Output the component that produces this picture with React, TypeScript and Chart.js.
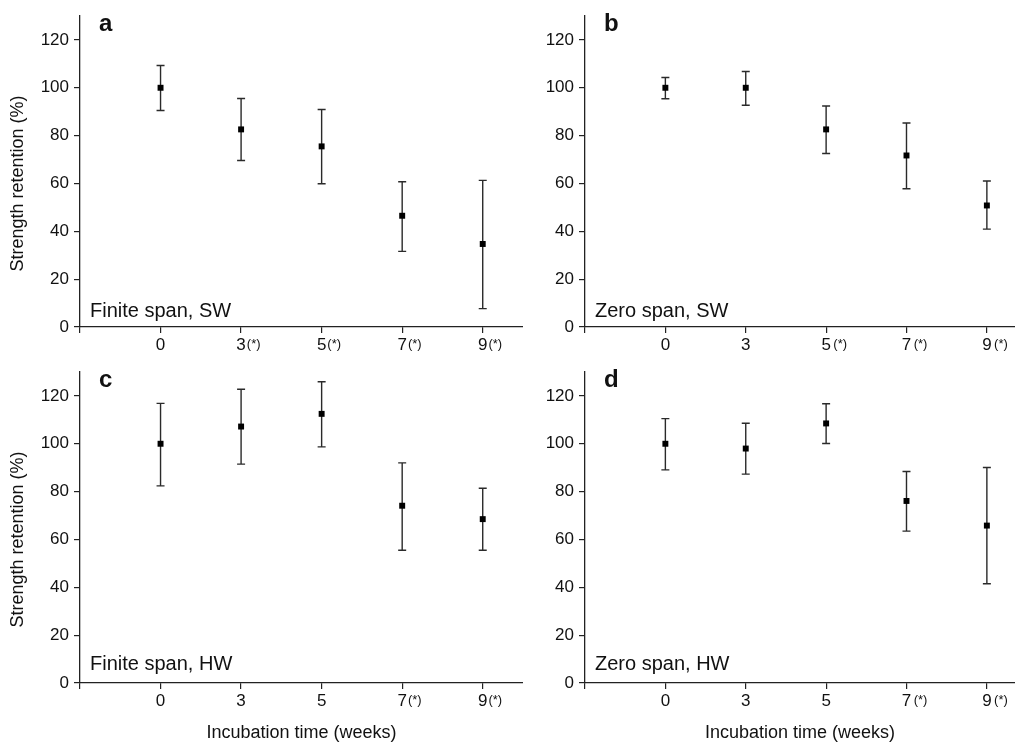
import React, { useEffect, useRef } from 'react';
import { Chart, registerables } from 'chart.js';

Chart.register(...registerables);

const FONT = '"Liberation Sans", Arial, Helvetica, sans-serif';

// ---- data ----
const WEEK_LABELS = ['0', '3', '5', '7', '9'];
const X_TICKS = [-1, 0, 1, 2, 3, 4];
const Y_TICKS = [0, 20, 40, 60, 80, 100, 120];
const X_TITLE = 'Incubation time (weeks)';
const Y_TITLE = 'Strength retention (%)';

const A_MEAN = [100, 82.6, 75.5, 46.5, 34.7];
const A_LOW = [90.5, 69.6, 59.9, 31.6, 7.7];
const A_HIGH = [109.3, 95.5, 90.9, 60.7, 61.3];
const A_SIG = [false, true, true, true, true];

const B_MEAN = [100, 100, 82.6, 71.7, 50.8];
const B_LOW = [95.4, 92.7, 72.5, 57.8, 40.9];
const B_HIGH = [104.3, 106.8, 92.4, 85.3, 61.0];
const B_SIG = [false, false, true, true, true];

const C_MEAN = [100, 107.2, 112.5, 74.1, 68.5];
const C_LOW = [82.4, 91.5, 98.7, 55.5, 55.5];
const C_HIGH = [116.9, 122.8, 125.9, 92.0, 81.4];
const C_SIG = [false, false, false, true, true];

const D_MEAN = [100, 98, 108.5, 76.1, 65.8];
const D_LOW = [89.1, 87.3, 100.1, 63.5, 41.5];
const D_HIGH = [110.5, 108.6, 116.7, 88.4, 90.1];
const D_SIG = [false, false, false, true, true];

type Panel = {
  letter: string;
  note: string;
  mean: number[];
  low: number[];
  high: number[];
  sig: boolean[];
  left: number;
  top: number;
  width: number;
  height: number;
  xMax: number;
  yTitle: boolean;
  xTitle: boolean;
  noteOffset: number;
  sigGap: number;
};

const PANELS: Panel[] = [
  { letter: 'a', note: 'Finite span, SW', mean: A_MEAN, low: A_LOW, high: A_HIGH, sig: A_SIG,
    left: 0, top: 0, width: 523, height: 372, xMax: 4.5, yTitle: true, xTitle: false, noteOffset: 10, sigGap: 1 },
  { letter: 'b', note: 'Zero span, SW', mean: B_MEAN, low: B_LOW, high: B_HIGH, sig: B_SIG,
    left: 505, top: 0, width: 510, height: 372, xMax: 4.35, yTitle: false, xTitle: false, noteOffset: 10, sigGap: 2.5 },
  { letter: 'c', note: 'Finite span, HW', mean: C_MEAN, low: C_LOW, high: C_HIGH, sig: C_SIG,
    left: 0, top: 356, width: 523, height: 388, xMax: 4.5, yTitle: true, xTitle: true, noteOffset: 13.5, sigGap: 1 },
  { letter: 'd', note: 'Zero span, HW', mean: D_MEAN, low: D_LOW, high: D_HIGH, sig: D_SIG,
    left: 505, top: 356, width: 510, height: 388, xMax: 4.35, yTitle: false, xTitle: true, noteOffset: 13.5, sigGap: 2.5 },
];

const TICK_FONT_SIZE = 17;

function PanelChart({ p }: { p: Panel }) {
  const ref = useRef<HTMLCanvasElement | null>(null);

  useEffect(() => {
    const canvas = ref.current;
    if (!canvas) return;

    const decor = {
      id: 'decor' + p.letter,
      beforeDatasetsDraw(chart: any) {
        const { ctx, scales } = chart;
        const x = scales.x;
        const y = scales.y;
        ctx.save();
        ctx.strokeStyle = '#2a2a2a';
        ctx.lineWidth = 1.4;
        p.mean.forEach((_m, i) => {
          const px = x.getPixelForValue(i);
          const yl = y.getPixelForValue(p.low[i]);
          const yh = y.getPixelForValue(p.high[i]);
          ctx.beginPath();
          ctx.moveTo(px, yl);
          ctx.lineTo(px, yh);
          ctx.moveTo(px - 4, yl);
          ctx.lineTo(px + 4, yl);
          ctx.moveTo(px - 4, yh);
          ctx.lineTo(px + 4, yh);
          ctx.stroke();
        });
        ctx.restore();
      },
      afterDraw(chart: any) {
        const { ctx, scales, chartArea } = chart;
        const x = scales.x;
        ctx.save();
        ctx.fillStyle = '#111';
        // significance markers after tick labels
        ctx.font = `${TICK_FONT_SIZE}px ${FONT}`;
        p.sig.forEach((s, i) => {
          if (!s) return;
          const px = x.getPixelForValue(i);
          const w = ctx.measureText(WEEK_LABELS[i]).width;
          ctx.save();
          ctx.font = `13px ${FONT}`;
          ctx.textAlign = 'left';
          ctx.textBaseline = 'alphabetic';
          ctx.fillText('(*)', px + w / 2 + p.sigGap, x.top + 21);
          ctx.restore();
        });
        // panel letter
        ctx.font = `bold 24px ${FONT}`;
        ctx.textAlign = 'left';
        ctx.textBaseline = 'alphabetic';
        ctx.fillText(p.letter, chartArea.left + 19, chartArea.top + 15);
        // annotation
        ctx.font = `20px ${FONT}`;
        ctx.fillText(p.note, chartArea.left + 10, chartArea.bottom - p.noteOffset);
        // y title
        if (p.yTitle) {
          ctx.save();
          ctx.translate(18, (chartArea.top + chartArea.bottom) / 2 + 12);
          ctx.rotate(-Math.PI / 2);
          ctx.font = `18px ${FONT}`;
          ctx.textAlign = 'center';
          ctx.textBaseline = 'middle';
          ctx.fillText(Y_TITLE, 0, 0);
          ctx.restore();
        }
        ctx.restore();
      },
    };

    const chart = new Chart(canvas, {
      type: 'scatter',
      data: {
        datasets: [
          {
            data: p.mean.map((v, i) => ({ x: i, y: v })),
            pointStyle: 'rect',
            pointRadius: 4.2,
            pointHoverRadius: 4.2,
            backgroundColor: '#000',
            borderColor: '#000',
            borderWidth: 0,
            showLine: false,
          },
        ],
      },
      options: {
        animation: false,
        responsive: false,
        devicePixelRatio: 1,
        layout: { autoPadding: false, padding: { top: 16, left: 0, right: 0, bottom: 0 } },
        plugins: {
          legend: { display: false },
          tooltip: { enabled: false },
          title: { display: false },
        },
        scales: {
          x: {
            type: 'linear',
            min: -1,
            max: p.xMax,
            afterBuildTicks: (s: any) => {
              s.ticks = X_TICKS.map((v) => ({ value: v }));
            },
            afterFit: (s: any) => {
              s.height = p.xTitle ? 61 : 45;
              s.paddingLeft = 0;
              s.paddingRight = 0;
            },
            ticks: {
              autoSkip: false,
              maxRotation: 0,
              padding: 2,
              color: '#111',
              font: { family: FONT, size: TICK_FONT_SIZE },
              callback: (v: any) => (v >= 0 ? WEEK_LABELS[v] : ''),
            },
            grid: {
              display: true,
              drawOnChartArea: false,
              drawTicks: true,
              tickLength: 6,
              color: '#222',
              lineWidth: 1.2,
            },
            border: { display: true, color: '#222', width: 1.3 },
            title: {
              display: p.xTitle,
              text: X_TITLE,
              color: '#111',
              font: { family: FONT, size: 18 },
              padding: { top: 0, bottom: 0 },
            },
          },
          y: {
            type: 'linear',
            min: 0,
            max: 130,
            afterBuildTicks: (s: any) => {
              s.ticks = Y_TICKS.map((v) => ({ value: v }));
            },
            afterFit: (s: any) => {
              s.width = 80;
              s.paddingTop = 0;
              s.paddingBottom = 0;
            },
            ticks: {
              padding: 5,
              color: '#111',
              font: { family: FONT, size: TICK_FONT_SIZE },
            },
            grid: {
              display: true,
              drawOnChartArea: false,
              drawTicks: true,
              tickLength: 6,
              color: '#222',
              lineWidth: 1.2,
            },
            border: { display: true, color: '#222', width: 1.3 },
          },
        },
      },
      plugins: [decor],
    } as any);

    return () => chart.destroy();
  }, [p]);

  return (
    <canvas
      ref={ref}
      width={p.width}
      height={p.height}
      style={{ position: 'absolute', left: p.left, top: p.top, width: p.width, height: p.height }}
    />
  );
}

export default function App() {
  return (
    <div style={{ position: 'absolute', left: 0, top: 0, width: 1015, height: 744, background: '#fff', overflow: 'hidden' }}>
      {PANELS.map((p) => (
        <PanelChart key={p.letter} p={p} />
      ))}
    </div>
  );
}
